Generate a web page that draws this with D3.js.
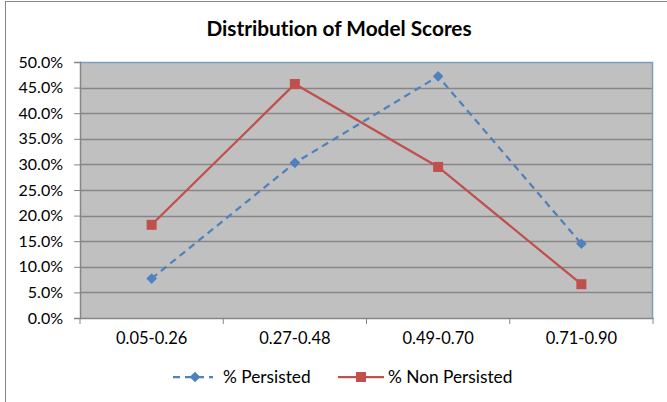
<!DOCTYPE html>
<html>
<head>
<meta charset="utf-8">
<script src="https://cdn.jsdelivr.net/npm/d3@7"></script>
<style>
  body { margin: 0; background: #fff; }
  text { font-family: Lato, "Open Sans", sans-serif; fill: #000; font-variant-ligatures: none; }
</style>
</head>
<body>
<div class="chart"></div>
<script>
// Chart data
var categories = ["0.05-0.26", "0.27-0.48", "0.49-0.70", "0.71-0.90"];
var persisted = [0.077, 0.303, 0.472, 0.145];
var nonPersisted = [0.182, 0.457, 0.295, 0.066];
var yTicks = [0, 0.05, 0.10, 0.15, 0.20, 0.25, 0.30, 0.35, 0.40, 0.45, 0.50];

var svgWidth = 667;
var svgHeight = 402;
var margin = { top: 62, right: 14, bottom: 84, left: 80 };
var width = svgWidth - margin.left - margin.right;
var height = svgHeight - margin.top - margin.bottom;

var svg = d3.select(".chart")
  .append("svg")
  .attr("width", svgWidth)
  .attr("height", svgHeight);

// outer chart border
svg.append("rect")
  .attr("x", 5.5).attr("y", 1.5)
  .attr("width", 670).attr("height", 410)
  .attr("fill", "none")
  .attr("stroke", "#868686");

svg.append("text")
  .attr("x", 339).attr("y", 36)
  .attr("text-anchor", "middle")
  .style("font-size", "20.8px")
  .style("font-weight", "bold")
  .text("Distribution of Model Scores");

var chartGroup = svg.append("g")
  .attr("transform", `translate(${margin.left}, ${margin.top})`);

var xBand = d3.scaleBand().domain(categories).range([0, width]);
var yScale = d3.scaleLinear().domain([0, 0.5]).range([height, 0]);

// plot area
chartGroup.append("rect")
  .attr("width", width).attr("height", height)
  .attr("fill", "#c0c0c0");

// gridlines
chartGroup.selectAll(".grid")
  .data(yTicks.slice(1, -1))
  .enter()
  .append("line")
  .attr("x1", 0).attr("x2", width)
  .attr("y1", d => Math.round(yScale(d)) + 0.5)
  .attr("y2", d => Math.round(yScale(d)) + 0.5)
  .attr("stroke", "#868686")
  .attr("stroke-width", 1.5);

// top and right border of plot area
chartGroup.append("path")
  .attr("d", `M0,0.5H${width - 0.5}V${height}`)
  .attr("fill", "none")
  .attr("stroke", "#7b9cc4")
  .attr("stroke-width", 1.5);

// axes
var leftAxis = d3.axisLeft(yScale).tickValues(yTicks)
  .tickFormat(d3.format(".1%")).tickSize(6).tickPadding(11);
var bottomAxis = d3.axisBottom(xBand).tickSize(0).tickPadding(14);

var yAxisG = chartGroup.append("g").call(leftAxis);
yAxisG.selectAll("text").style("font-size", "16px");

var xAxisG = chartGroup.append("g")
  .attr("transform", `translate(0, ${height})`)
  .call(bottomAxis);
xAxisG.selectAll("text").style("font-size", "16.5px");

// category tick marks at band boundaries
chartGroup.selectAll(".xtick")
  .data(categories.concat(["end"]))
  .enter()
  .append("line")
  .attr("x1", (d, i) => i * xBand.bandwidth())
  .attr("x2", (d, i) => i * xBand.bandwidth())
  .attr("y1", height).attr("y2", height + 6)
  .attr("stroke", "#868686");

[yAxisG, xAxisG].forEach(function(g) {
  g.select(".domain").attr("stroke", "#868686").attr("stroke-width", 1.5);
  g.selectAll(".tick line").attr("stroke", "#868686");
});

var cx = d => xBand(d) + xBand.bandwidth() / 2;

var line1 = d3.line().x((d, i) => cx(categories[i])).y(d => yScale(d));

chartGroup.append("path")
  .datum(persisted)
  .attr("d", line1)
  .attr("fill", "none")
  .attr("stroke", "#4f81bd")
  .attr("stroke-width", 2.25)
  .attr("stroke-dasharray", "7,5");

chartGroup.append("path")
  .datum(nonPersisted)
  .attr("d", line1)
  .attr("fill", "none")
  .attr("stroke", "#c0504d")
  .attr("stroke-width", 2.25);

var diamond = d3.symbol().type(d3.symbolDiamond2).size(72);

chartGroup.selectAll(".pmark")
  .data(persisted)
  .enter()
  .append("path")
  .attr("d", diamond)
  .attr("transform", (d, i) => `translate(${cx(categories[i])}, ${yScale(d)})`)
  .attr("fill", "#4f81bd");

chartGroup.selectAll(".nmark")
  .data(nonPersisted)
  .enter()
  .append("rect")
  .attr("x", (d, i) => cx(categories[i]) - 5)
  .attr("y", d => yScale(d) - 5)
  .attr("width", 10).attr("height", 10)
  .attr("fill", "#c0504d");

// legend
var legend = svg.append("g").attr("transform", "translate(0, 377)");
legend.append("line")
  .attr("x1", 173).attr("x2", 213)
  .attr("stroke", "#4f81bd").attr("stroke-width", 2.25)
  .attr("stroke-dasharray", "7,5");
legend.append("path")
  .attr("d", diamond)
  .attr("transform", "translate(195, 0)")
  .attr("fill", "#4f81bd");
legend.append("text")
  .attr("x", 223).attr("dy", "0.35em")
  .style("font-size", "17.3px")
  .text("% Persisted");

legend.append("line")
  .attr("x1", 338).attr("x2", 384)
  .attr("stroke", "#c0504d").attr("stroke-width", 2.25);
legend.append("rect")
  .attr("x", 356).attr("y", -5)
  .attr("width", 10).attr("height", 10)
  .attr("fill", "#c0504d");
legend.append("text")
  .attr("x", 388).attr("dy", "0.35em")
  .style("font-size", "17.3px")
  .text("% Non Persisted");
</script>
</body>
</html>
